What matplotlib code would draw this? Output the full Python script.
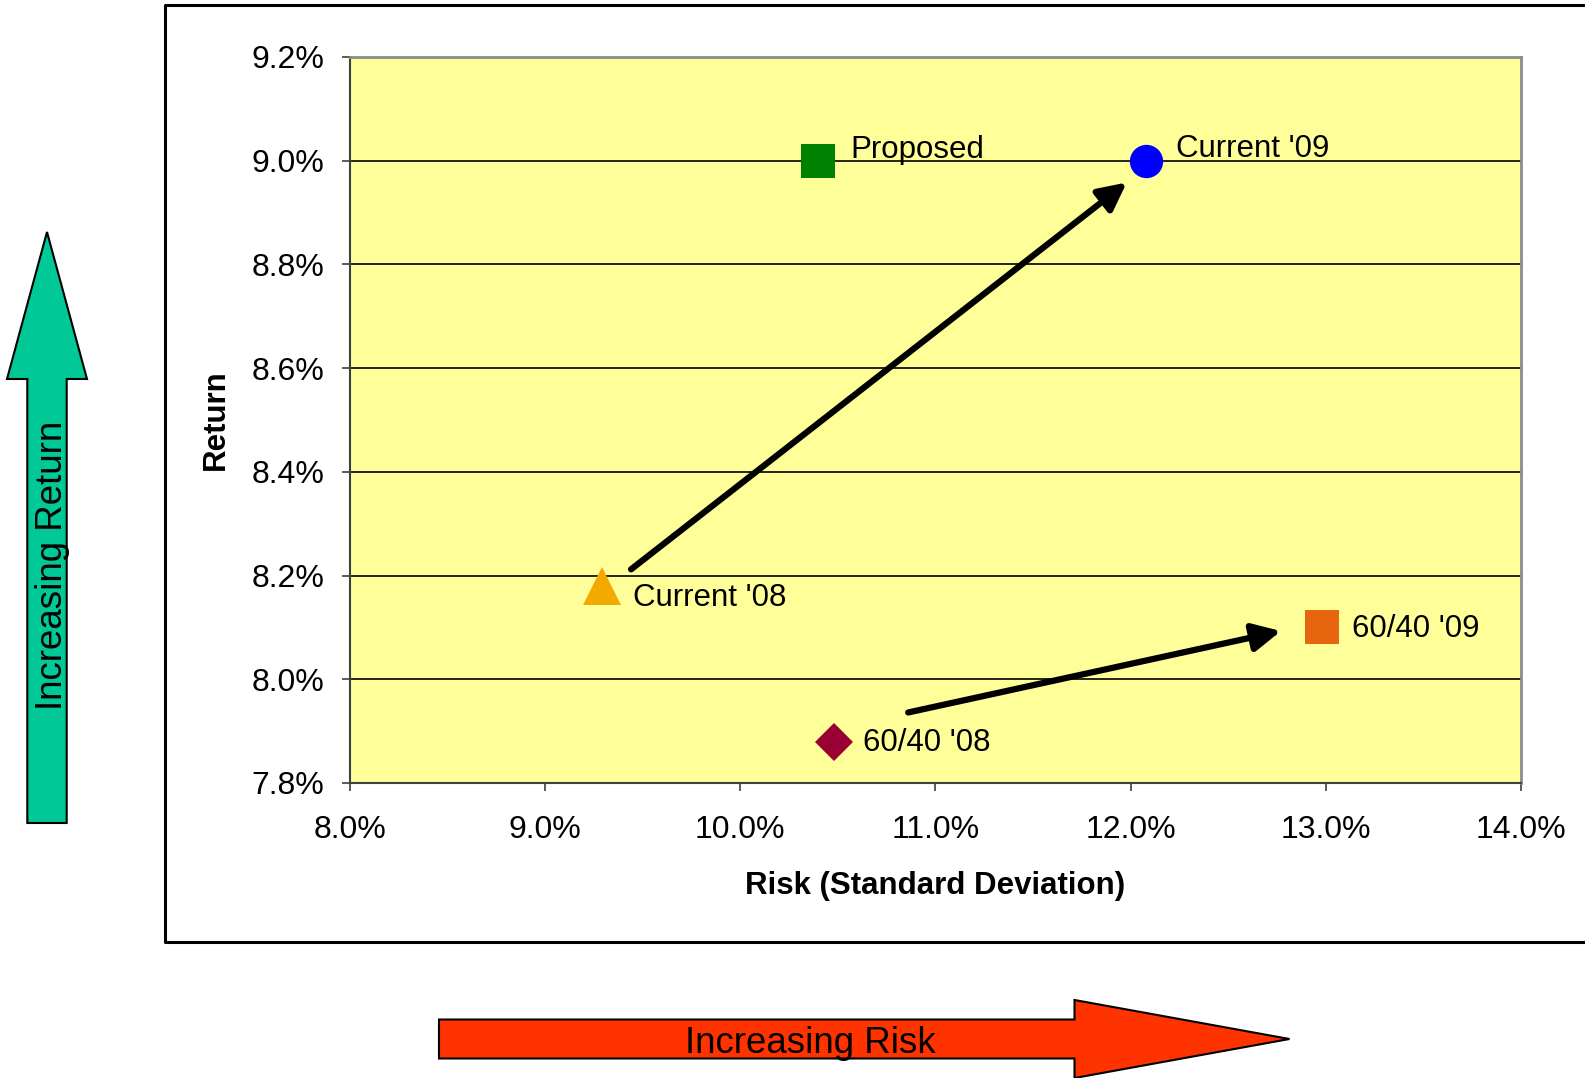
import numpy as np
import matplotlib.pyplot as plt
from matplotlib.patches import Polygon
from matplotlib.lines import Line2D
from matplotlib.ticker import FuncFormatter

plt.rcParams['font.family'] = ['Liberation Sans', 'DejaVu Sans']

# -------------------------------------------------------------------------
# Data
# -------------------------------------------------------------------------
labels = ["Proposed", "Current '09", "Current '08", "60/40 '09", "60/40 '08"]
risk = [10.4, 12.08, 9.29, 12.98, 10.48]      # standard deviation, %
ret = [9.0, 9.0, 8.18, 8.1, 7.88]             # return, %

# arrows showing the move from '08 to '09 (start risk, start return, end risk, end return)
moves = [
    (9.44, 8.212, 11.98, 8.958),
    (10.86, 7.936, 12.77, 8.093),
]

x_ticks = [8.0, 9.0, 10.0, 11.0, 12.0, 13.0, 14.0]
y_ticks = [7.8, 8.0, 8.2, 8.4, 8.6, 8.8, 9.0, 9.2]

# -------------------------------------------------------------------------
# Styles
# -------------------------------------------------------------------------
markers = ['s', 'o', '^', 's', 'D']
colors = ['#008000', '#0000FF', '#F2A900', '#E8650F', '#990033']
sizes = [24, 24, 27, 24, 19]
label_offsets = [(32, 3), (30, 4), (31, -20), (30, -10), (29, -9)]  # pixels

W, H = 1585, 1078


def fx(px):
    return px / W


def fy(py):
    return 1 - py / H


fig = plt.figure(figsize=(W / 100, H / 100), dpi=100)
ax = fig.add_axes([fx(350), fy(783), 1171 / W, 726 / H])
ax.set_facecolor('#FFFF99')

for x, y, lab, m, c, s, off in zip(risk, ret, labels, markers, colors, sizes, label_offsets):
    ax.plot(x, y, marker=m, color=c, markersize=s, markeredgewidth=0,
            linestyle='none', zorder=5)
    ax.annotate(lab, (x, y), xytext=off, textcoords='offset pixels',
                ha='left', va='baseline', fontsize=22.5, zorder=6)

for x0, y0, x1, y1 in moves:
    ax.annotate('', xy=(x1, y1), xytext=(x0, y0),
                arrowprops=dict(arrowstyle='-|>', color='black', lw=4.5,
                                mutation_scale=42, shrinkA=0, shrinkB=0),
                zorder=4)

ax.set_xlim(x_ticks[0], x_ticks[-1])
ax.set_ylim(y_ticks[0], y_ticks[-1])
ax.set_xticks(x_ticks)
ax.set_yticks(y_ticks)
ax.xaxis.set_major_formatter(FuncFormatter(lambda v, p: f'{v:.1f}%'))
ax.yaxis.set_major_formatter(FuncFormatter(lambda v, p: f'{v:.1f}%'))
ax.tick_params(axis='both', direction='out', length=6, width=1.2,
               labelsize=23, color='#404040')
ax.tick_params(axis='y', pad=12.5)
ax.tick_params(axis='x', pad=17)

ax.yaxis.grid(True, color='black', lw=1.2)
ax.set_axisbelow(True)

for side in ['top', 'right']:
    ax.spines[side].set_color('#8C8C8C')
    ax.spines[side].set_linewidth(2)
for side in ['left', 'bottom']:
    ax.spines[side].set_color('#404040')
    ax.spines[side].set_linewidth(1.5)

ax.set_xlabel('Risk (Standard Deviation)', fontsize=22.5, fontweight='bold')
ax.set_ylabel('Return', fontsize=22.5, fontweight='bold')
ax.xaxis.set_label_coords(0.5, -0.1412)
ax.xaxis.label.set_va('center')
ax.yaxis.set_label_coords(-0.1144, 0.5)
ax.yaxis.label.set_va('center')

# -------------------------------------------------------------------------
# Chart frame and the two big direction arrows
# -------------------------------------------------------------------------
frame_x = [W + 10, 165, 165, W + 10]
frame_y = [5, 5, 942, 942]
fig.add_artist(Line2D([fx(v) for v in frame_x], [fy(v) for v in frame_y],
                      color='black', lw=2.2, transform=fig.transFigure))

up_arrow = [(47, 232), (87, 379), (66.7, 379), (66.7, 823),
            (27.3, 823), (27.3, 379), (7, 379)]
fig.add_artist(Polygon([(fx(a), fy(b)) for a, b in up_arrow], closed=True,
                       facecolor='#00C896', edgecolor='black', lw=1.5,
                       transform=fig.transFigure))
fig.text(fx(62), fy(565), 'Increasing Return', rotation=90,
         rotation_mode='anchor', ha='center', va='baseline', fontsize=26.4)

right_arrow = [(439, 1019.5), (1074.5, 1019.5), (1074.5, 1000), (1289.5, 1039),
               (1074.5, 1078), (1074.5, 1058.5), (439, 1058.5)]
fig.add_artist(Polygon([(fx(a), fy(b)) for a, b in right_arrow], closed=True,
                       facecolor='#FF3300', edgecolor='black', lw=1.5,
                       transform=fig.transFigure))
fig.text(fx(810), fy(1053), 'Increasing Risk', ha='center', va='baseline',
         fontsize=26.4)

fig.savefig('out.png', dpi=100)
